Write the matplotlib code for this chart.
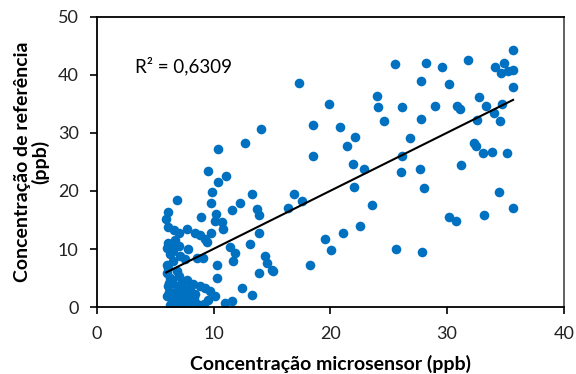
#!/usr/bin/env python3
"""
Dispersão: concentração do microsensor vs. concentração de referência (ppb),
com linha de tendência linear e R² anotado.
"""
import numpy as np
import matplotlib
matplotlib.use("Agg")
import matplotlib.pyplot as plt

# valores (ppb)
micro_ppb = [
    10.4, 9.56, 11.1, 10.4, 9.9, 9.8, 6.86, 13.3, 12.3, 11.6,
    13.7, 13.9, 6.08, 5.94, 8.94, 10.2, 10.1, 10.7, 6.14, 7.71,
    7.0, 8.42, 8.85, 9.28, 9.43, 9.77, 10.8, 13.9, 13.1, 11.4,
    11.85, 11.7, 14.4, 14.6, 13.85, 6.05, 6.43, 7.0, 7.85, 6.28,
    7.14, 6.56, 7.57, 8.57, 9.13, 6.0, 10.3, 10.3, 12.4, 13.3,
    6.0, 6.85, 6.43, 7.28, 7.71, 6.14, 6.85, 7.57, 8.85, 9.28,
    9.71, 10.1, 6.0, 6.71, 7.28, 7.85, 6.28, 7.0, 8.0, 8.57,
    9.14, 11.0, 11.6, 6.6, 6.2, 6.6, 7.0, 6.3, 7.0, 6.1,
    6.5, 6.1, 6.7, 8.2, 7.6, 6.6, 8.3, 6.4, 7.4, 6.9,
    7.9, 8.4, 6.2, 7.3, 8.0, 6.8, 9.5,
    14.1, 12.7, 16.9, 17.56, 16.4, 14.99, 15.08, 18.3, 19.56, 20.05,
    21.1, 22.5, 23.57, 22.0, 22.9, 21.9, 18.5, 21.4, 22.14, 20.85,
    18.5, 19.9, 17.28, 24.6, 24.08, 23.99, 25.56, 26.1, 26.85, 27.8,
    27.8, 26.1, 26.05, 27.65, 25.6, 27.85,
    35.65, 34.9, 35.65, 34.6, 35.2, 34.1, 31.76, 28.22, 29.56, 30.2,
    35.65, 32.7, 33.3, 29.0, 30.85, 31.1, 34.7, 34.0, 34.5, 32.6,
    32.3, 32.5, 33.1, 33.85, 35.1, 31.2, 28.05, 34.4, 35.6, 30.2,
    30.8, 33.2,
]
ref_ppb = [
    27.3, 23.5, 22.6, 21.6, 19.8, 18.0, 18.5, 19.5, 18.0, 16.7,
    16.9, 15.9, 16.3, 15.25, 15.5, 16.0, 14.8, 14.7, 13.8, 13.4,
    12.8, 12.8, 12.4, 11.8, 11.2, 12.7, 13.4, 12.7, 10.8, 10.3,
    9.36, 7.9, 8.8, 7.6, 5.9, 10.2, 10.8, 10.5, 9.93, 9.06,
    8.77, 7.9, 8.2, 8.49, 8.49, 7.33, 7.16, 5.0, 3.3, 2.0,
    5.9, 6.18, 4.73, 4.44, 4.73, 3.58, 3.58, 3.0, 3.58, 3.29,
    2.71, 1.85, 1.85, 1.56, 1.56, 1.85, 0.4, 0.4, 0.7, 0.6,
    0.6, 0.7, 1.0, 13.3, 2.6, 2.4, 2.6, 5.0, 5.3, 6.8,
    9.6, 11.0, 11.5, 4.0, 0.9, 0.9, 1.5, 1.0, 0.5, 2.2,
    2.6, 2.2, 4.2, 3.4, 3.3, 0.9, 1.2,
    30.7, 28.3, 19.5, 18.2, 17.0, 6.4, 6.2, 7.3, 11.7, 9.8,
    12.7, 13.9, 17.6, 20.6, 23.8, 24.7, 26.0, 27.7, 29.3, 31.1,
    31.4, 35.0, 38.6, 32.0, 34.5, 36.4, 41.8, 34.5, 29.1, 32.4,
    39.0, 26.0, 23.2, 23.8, 10.05, 9.4,
    44.2, 42.1, 40.9, 40.4, 40.7, 41.3, 42.5, 42.1, 41.4, 38.5,
    37.9, 36.2, 34.6, 34.6, 34.6, 34.2, 34.9, 33.5, 32.1, 32.3,
    28.3, 27.7, 26.6, 26.7, 26.5, 24.4, 20.5, 19.9, 17.0, 15.6,
    14.8, 15.8,
]
r2_label = "R² = 0,6309"


def main():
    x = np.array(micro_ppb)
    y = np.array(ref_ppb)

    plt.rcParams["font.family"] = ["Lato", "DejaVu Sans"]
    fig = plt.figure(figsize=(5.76, 3.74), dpi=100)
    ax = fig.add_axes([0.168, 0.179, 0.811, 0.776])

    ax.scatter(x, y, s=48, color="#0070C0", linewidths=0, zorder=2)

    # linha de tendência linear (mínimos quadrados)
    a, b = np.polyfit(x, y, 1)
    xs = np.array([x.min(), x.max()])
    ax.plot(xs, a * xs + b, color="black", lw=1.5, zorder=3)

    ax.text(0.082, 0.81, r2_label, transform=ax.transAxes, fontsize=13.5)

    ax.set_xlim(0, 40)
    ax.set_ylim(0, 50)
    ax.set_xticks([0, 10, 20, 30, 40])
    ax.set_yticks([0, 10, 20, 30, 40, 50])
    ax.tick_params(direction="out", length=5, width=1.2, labelsize=13,
                   color="black", labelcolor="#222222")
    ax.tick_params(axis="x", pad=9)
    ax.tick_params(axis="y", pad=8)
    for side in ["left", "bottom", "top", "right"]:
        ax.spines[side].set_linewidth(1.3)
        ax.spines[side].set_color("black")
    ax.spines["right"].set_color("#555555")

    ax.set_xlabel("Concentração microsensor (ppb)", fontsize=14,
                  fontweight="bold", labelpad=9)
    ax.set_ylabel("Concentração de referência\n(ppb)", fontsize=14,
                  fontweight="bold", labelpad=6, linespacing=1.05)

    fig.savefig("out.png", dpi=100)
    plt.close(fig)


if __name__ == "__main__":
    main()
